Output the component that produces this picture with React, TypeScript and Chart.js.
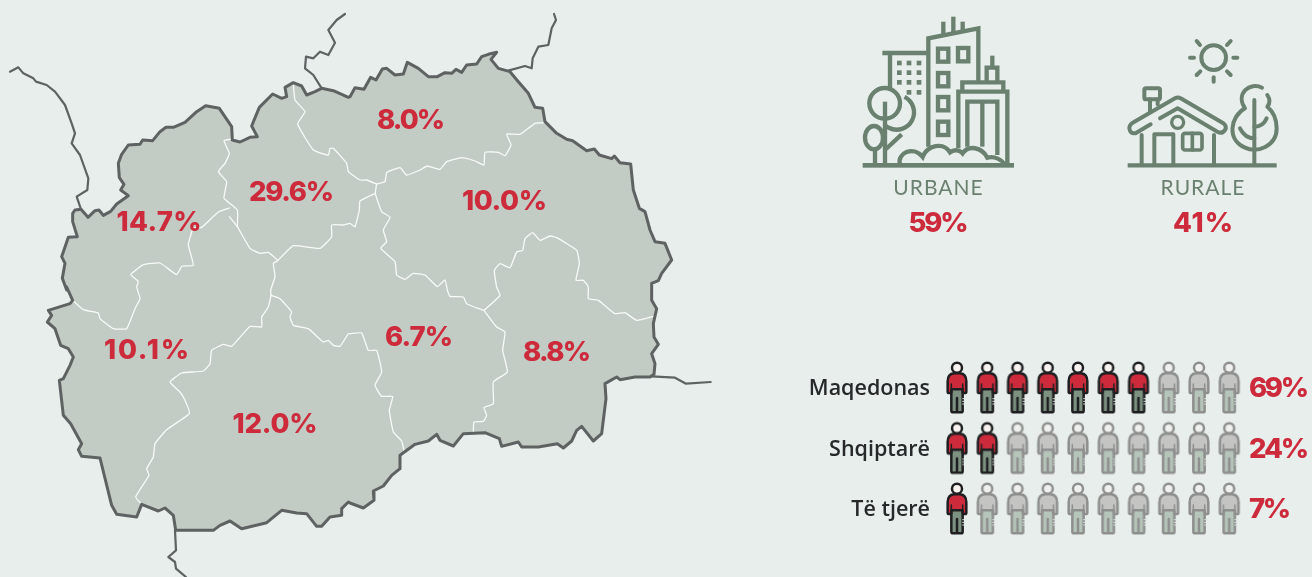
import React, { useEffect, useRef } from "react";
import { Chart, registerables } from "chart.js";

Chart.register(...registerables);

/* ---------- data ---------- */
const regionShares = [8.0, 29.6, 14.7, 10.0, 10.1, 12.0, 6.7, 8.8];
const regionLabelX = [411, 291.5, 159, 504.5, 146.5, 275, 419, 557];
const regionLabelY = [129, 201, 231, 210, 359, 433, 346, 361];

const settlementNames = ["URBANE", "RURALE"];
const settlementShares = [59, 41];
const settlementX = [938.5, 1203];

const groupNames = ["Maqedonas", "Shqiptarë", "Të tjerë"];
const groupShares = [69, 24, 7];
const groupFilled = [7, 2, 1];
const iconsPerRow = 10;

/* Map geometry, traced in 3x tiles: [originX, originY, x,y, x,y, ...] */
const outlineNW = [0, 0, 218,640, 225,630, 243,628, 264,652, 285,632, 297,630, 310,646, 332,634, 350,612, 385,587, 362,570, 372,553, 358,533, 355,490, 365,463, 385,435, 420,433, 428,420, 458,422, 480,395, 498,382, 520,382, 555,367, 590,335, 617,317, 658,325, 695,380, 697,420, 720,426, 750,412, 772,410, 755,378, 778,322, 818,282, 845,295, 860,290, 855,262, 880,248, 905,258, 920,285, 945,275, 965,265, 1000,272, 1045,292];
const outlineNE = [350, 0, 0,290, 15,263, 42,268, 62,232, 78,240, 97,207, 110,205, 135,225, 160,222, 172,187, 205,205, 235,230, 262,230, 285,218, 305,220, 318,208, 335,217, 350,195, 380,192, 395,170, 415,163, 440,157, 423,178, 445,205, 480,215, 505,245, 535,280, 555,322, 578,325, 585,365, 620,400, 650,418, 668,422, 710,452, 733,447, 748,465, 785,476, 793,468, 810,488, 842,492, 850,570, 868,625, 885,635, 900,690, 915,725, 945,730, 965,780, 935,820, 925,842, 905,850];
const outlineSE = [350, 287, 905,0, 905,40, 920,65, 910,110, 912,150, 925,172, 905,200, 915,230, 912,262, 900,270, 855,270, 810,278, 800,270, 765,290, 768,335, 755,440, 730,462, 695,418, 680,430, 665,462, 640,483, 622,470, 565,480, 515,480, 505,465, 455,478, 448,455, 405,437, 340,440, 310,477, 270,460, 260,442, 235,462, 195,472, 150,505, 150,545, 125,565, 100,597, 70,612, 72,640, 40,663, 0,648];
const outlineSW = [0, 287, 1045,645, 1025,665, 1025,685, 990,690, 965,718, 950,718, 920,680, 890,678, 845,670, 800,707, 725,725, 690,702, 660,715, 640,730, 527,730, 520,685, 495,663, 475,672, 425,652, 410,690, 350,682, 335,655, 300,513, 245,508, 235,488, 245,470, 212,410, 190,385, 178,280, 190,275, 210,235, 220,210, 205,185, 182,175, 165,125, 142,105, 155,85, 145,70, 210,50, 218,40, 200,0];
const outlineW = [0, 0, 200,870, 187,835, 195,790, 185,770, 205,712, 232,710, 218,665, 218,640];

const branches = [
  [0, 0, 30,215, 55,202, 70,220, 100,235, 108,245, 140,255, 165,275, 195,315, 215,370, 225,400, 215,430, 240,465, 265,535, 262,570, 230,590, 243,628],
  [0, 0, 1035,42, 1010,60, 985,90, 1005,128, 985,165, 960,155, 940,175, 918,170, 915,205, 940,225, 965,265],
  [350, 0, 612,42, 618,60, 605,85, 595,135, 565,140, 548,175, 545,205, 525,198, 475,212],
  [350, 287, 905,268, 975,272, 1008,290, 1082,285],
  [0, 287, 525,730, 528,790, 505,810, 525,825, 528,845, 558,870],
];

const innerBorders = [
  [0, 0, 880,255, 885,300, 915,335, 893,372, 940,450, 985,465, 990,445, 1000,445, 1040,490, 1045,515, 1080,540, 1100,540, 1130,552],
  [350, 0, 80,552, 105,545, 110,518, 150,503, 170,525, 210,510, 232,498, 270,508, 290,485, 335,473, 375,483, 402,495, 405,457, 445,457, 465,467, 483,435, 470,402, 510,403, 555,370, 582,368],
  [350, 0, 80,552, 76,580, 95,635, 120,652, 100,690, 110,725, 92,745, 135,785, 140,825, 165,838, 190,820, 225,825, 262,860, 285,840, 292,870, 300,889, 340,891, 350,911, 400,931],
  [350, 287, 402,70, 450,25, 440,0, 433,-50, 450,-70, 480,-58, 500,-105, 518,-110, 525,-145, 548,-163, 570,-140, 600,-153, 620,-148, 680,-110, 688,-70, 678,-20, 700,-20, 715,0, 715,35, 745,40, 795,80, 825,77, 860,100, 910,88],
  [350, 287, 402,70, 440,120, 465,135, 458,190, 472,255, 430,285, 430,350, 402,362, 410,385, 400,403, 372,405, 370,435],
  [350, 287, 0,140, 35,138, 55,190, 80,190, 95,255, 75,295, 95,328, 128,328, 118,370, 130,435, 155,462, 163,495],
  [0, 0, 688,650, 712,680, 750,745, 780,760, 805,757, 833,782, 820,790, 825,830, 812,870, 813,886],
  [0, 287, 813,25, 840,35, 875,75, 870,90, 880,115, 925,125, 970,165, 985,160, 1000,175, 1020,178, 1045,140, 1050,140],
  [0, 287, 813,25, 805,60, 785,90, 785,120, 750,118, 725,145, 695,178, 670,172, 635,190, 630,230, 610,252, 545,258, 510,285, 540,315, 555,340, 568,380, 500,428, 465,470, 460,510, 440,545, 447,565, 407,630, 425,652],
  [0, 287, 218,40, 250,68, 295,78, 300,95, 340,125, 380,125, 405,65, 420,35, 410,0, 415,-17, 392,-37, 430,-67, 480,-72, 530,-37, 545,-62, 580,-65, 565,-127, 580,-177, 605,-179, 655,-225, 688,-237],
  [0, 0, 695,417, 672,422, 688,460, 675,490, 655,515, 680,545, 672,595, 712,630, 712,680],
  [350, 0, 76,580, 30,603, 28,630, 15,680, 0,670, -20,675, -55,675, -55,710, -90,745, -170,737, -217,782],
];

const colors = {
  page: "#e7eeec",
  land: "#c2ccc5",
  outline: "#5f6262",
  red: "#cd2b3c",
  green: "#6b8170",
  ink: "#27282a",
};

const tile = (t: number[]) => {
  const pts: { x: number; y: number }[] = [];
  for (let i = 2; i < t.length; i += 2) pts.push({ x: t[0] + t[i] / 3, y: t[1] + t[i + 1] / 3 });
  return pts;
};

/* ---------- pictograms ---------- */
function makeCanvas(w: number, h: number) {
  const c = document.createElement("canvas");
  c.width = w;
  c.height = h;
  const g = c.getContext("2d")!;
  g.scale(1 / 3, 1 / 3);
  g.lineCap = "round";
  g.lineJoin = "round";
  return { c, g };
}

function person(active: boolean) {
  const { c, g } = makeCanvas(28, 58);
  const line = active ? "#1f1f21" : "#8f8f8f";
  const shirt = active ? "#cd2b3c" : "#c4c4c3";
  const legs = active ? "#7c9180" : "#b5c5ba";
  const head = active ? "#f8f3f0" : "#f0f1ef";
  g.lineWidth = 7.5;
  g.strokeStyle = line;
  // legs
  g.fillStyle = legs;
  g.beginPath();
  g.moveTo(25, 90);
  g.lineTo(25, 158);
  g.quadraticCurveTo(25, 163, 31, 163);
  g.lineTo(37, 163);
  g.quadraticCurveTo(42, 163, 42, 158);
  g.lineTo(42, 120);
  g.lineTo(42, 158);
  g.quadraticCurveTo(42, 163, 47, 163);
  g.lineTo(54, 163);
  g.quadraticCurveTo(59, 163, 59, 158);
  g.lineTo(59, 90);
  g.closePath();
  g.fill();
  g.stroke();
  // shirt
  g.fillStyle = shirt;
  g.beginPath();
  g.moveTo(14, 70);
  g.quadraticCurveTo(14, 48, 33, 46);
  g.lineTo(51, 46);
  g.quadraticCurveTo(70, 48, 70, 70);
  g.lineTo(70, 101);
  g.quadraticCurveTo(70, 105, 65, 105);
  g.lineTo(63, 105);
  g.quadraticCurveTo(59, 105, 59, 101);
  g.lineTo(59, 94);
  g.lineTo(25, 94);
  g.lineTo(25, 101);
  g.quadraticCurveTo(25, 105, 21, 105);
  g.lineTo(19, 105);
  g.quadraticCurveTo(14, 105, 14, 101);
  g.closePath();
  g.fill();
  g.stroke();
  g.lineWidth = 4.5;
  g.beginPath();
  g.moveTo(25, 78);
  g.lineTo(25, 94);
  g.moveTo(59, 78);
  g.lineTo(59, 94);
  g.stroke();
  g.lineWidth = 7.5;
  // head
  g.fillStyle = head;
  g.beginPath();
  g.arc(42, 29, 15, 0, Math.PI * 2);
  g.fill();
  g.stroke();
  // notches on the leg
  g.strokeStyle = "#dfe6e3";
  g.lineWidth = 3;
  for (const y of [122, 130, 138]) {
    g.beginPath();
    g.moveTo(59, y);
    g.lineTo(65, y);
    g.stroke();
  }
  return c;
}

function urbanIcon() {
  const { c, g } = makeCanvas(180, 235);
  g.lineCap = "butt";
  g.lineJoin = "miter";
  g.strokeStyle = colors.green;
  g.fillStyle = colors.green;
  g.lineWidth = 13;
  const poly = (...p: number[]) => {
    g.beginPath();
    g.moveTo(p[0], p[1]);
    for (let i = 2; i < p.length; i += 2) g.lineTo(p[i], p[i + 1]);
    g.stroke();
  };
  const box = (x: number, y: number, w: number, h: number) => g.strokeRect(x, y, w, h);
  // left building
  poly(97, 144, 235, 144);
  poly(120, 144, 120, 250);
  for (const y of [174, 203, 232]) for (const x of [148, 177, 207]) g.fillRect(x - 7, y - 7, 14, 14);
  for (const x of [177, 207]) g.fillRect(x - 7, 255, 14, 14);
  // main tower
  poly(235, 425, 235, 100, 385, 70, 385, 232);
  poly(280, 50, 280, 90);
  poly(310, 35, 310, 84);
  poly(338, 50, 338, 76);
  box(264, 131, 31, 39);
  box(324, 129, 31, 40);
  box(264, 204, 31, 40);
  box(264, 276, 31, 40);
  box(264, 350, 31, 40);
  // right building
  poly(325, 430, 325, 260, 472, 260, 472, 475);
  poly(337, 260, 337, 232, 460, 232, 460, 260);
  poly(410, 232, 410, 188, 442, 188, 442, 232);
  poly(427, 188, 427, 152);
  poly(352, 425, 352, 290, 442, 290, 442, 450);
  poly(397, 290, 397, 425);
  // trees
  g.beginPath();
  g.arc(104, 295, 46, 0, Math.PI * 2);
  g.stroke();
  g.beginPath();
  g.arc(140, 322, 52, -1.1, 2.3);
  g.stroke();
  poly(105, 290, 105, 475);
  poly(108, 432, 155, 388);
  g.beginPath();
  g.ellipse(72, 398, 27, 35, 0, 0, Math.PI * 2);
  g.stroke();
  poly(75, 435, 75, 475);
  // bushes
  g.beginPath();
  g.moveTo(150, 478);
  g.bezierCurveTo(140, 445, 190, 420, 218, 456);
  g.bezierCurveTo(232, 420, 280, 410, 300, 442);
  g.bezierCurveTo(312, 432, 330, 435, 338, 445);
  g.bezierCurveTo(355, 420, 395, 425, 412, 458);
  g.bezierCurveTo(435, 452, 455, 465, 465, 478);
  g.stroke();
  // ground
  g.fillRect(38, 474, 454, 14);
  return c;
}

function ruralIcon() {
  const { c, g } = makeCanvas(180, 215);
  g.strokeStyle = colors.green;
  g.lineWidth = 12;
  const poly = (...p: number[]) => {
    g.beginPath();
    g.moveTo(p[0], p[1]);
    for (let i = 2; i < p.length; i += 2) g.lineTo(p[i], p[i + 1]);
    g.stroke();
  };
  // sun
  g.beginPath();
  g.arc(311, 98, 37, 0, Math.PI * 2);
  g.stroke();
  poly(240, 98, 252, 98);
  poly(370, 98, 382, 98);
  poly(311, 157, 311, 170);
  poly(260, 48, 270, 60);
  poly(362, 48, 351, 60);
  poly(260, 150, 271, 139);
  poly(351, 139, 362, 150);
  // ground
  g.lineCap = "butt";
  g.lineWidth = 13;
  poly(53, 421, 500, 421);
  g.lineCap = "round";
  g.lineWidth = 12;
  // roof
  g.beginPath();
  g.moveTo(122, 298);
  g.lineTo(78, 324);
  g.quadraticCurveTo(60, 328, 58, 310);
  g.quadraticCurveTo(58, 298, 72, 291);
  g.lineTo(195, 220);
  g.quadraticCurveTo(204, 215, 212, 220);
  g.lineTo(340, 295);
  g.quadraticCurveTo(352, 305, 345, 315);
  g.quadraticCurveTo(336, 328, 322, 320);
  g.lineTo(203, 250);
  g.lineTo(150, 280);
  g.stroke();
  // walls
  poly(95, 330, 95, 415);
  poly(312, 330, 312, 415);
  // door
  poly(133, 415, 133, 328, 190, 328, 190, 415);
  // round window
  g.lineWidth = 10;
  g.beginPath();
  g.arc(203, 292, 18, 0, Math.PI * 2);
  g.stroke();
  // window
  g.lineWidth = 11;
  g.beginPath();
  g.roundRect(218, 325, 58, 50, 7);
  g.stroke();
  poly(247, 325, 247, 375);
  // chimney
  g.lineWidth = 12;
  g.beginPath();
  g.roundRect(103, 190, 47, 33, 5);
  g.stroke();
  poly(120, 223, 120, 260);
  poly(143, 223, 143, 238);
  // tree
  g.beginPath();
  g.moveTo(456, 188);
  g.bezierCurveTo(420, 170, 375, 205, 405, 250);
  g.bezierCurveTo(360, 275, 350, 345, 405, 368);
  g.bezierCurveTo(440, 385, 500, 365, 500, 310);
  g.bezierCurveTo(500, 280, 490, 260, 472, 245);
  g.bezierCurveTo(480, 235, 480, 222, 472, 210);
  g.stroke();
  poly(433, 225, 433, 415);
  g.beginPath();
  g.moveTo(390, 310);
  g.quadraticCurveTo(405, 340, 433, 340);
  g.stroke();
  g.beginPath();
  g.moveTo(433, 305);
  g.quadraticCurveTo(460, 305, 470, 280);
  g.stroke();
  return c;
}

/* ---------- label plugin ---------- */
const fittedWidth: Record<number, number> = { 2: 42, 3: 60, 4: 68, 5: 85 };

const labelsPlugin = {
  id: "labels",
  beforeDraw(chart: any) {
    const { ctx, width, height } = chart;
    ctx.save();
    ctx.fillStyle = colors.page;
    ctx.fillRect(0, 0, width, height);
    ctx.restore();
  },
  afterDatasetsDraw(chart: any) {
    const { ctx, scales } = chart;
    const text = (s: string, x: number, y: number, font: string, color: string, align: CanvasTextAlign, spacing = "0px") => {
      ctx.font = font;
      ctx.fillStyle = color;
      ctx.textAlign = align;
      ctx.textBaseline = "alphabetic";
      (ctx as any).letterSpacing = spacing;
      ctx.fillText(s, x, y);
    };
    const big = '800 27.5px Inter, sans-serif';
    const pct = (s: string, x: number, y: number, align: CanvasTextAlign) => {
      ctx.font = big;
      (ctx as any).letterSpacing = "0px";
      const w = ctx.measureText(s).width;
      const sp = (fittedWidth[s.length] - w) / (s.length - 1);
      text(s, align === "center" ? x + sp / 2 : x, y, big, colors.red, align, `${sp}px`);
    };
    ctx.save();
    regionShares.forEach((v, i) =>
      pct(`${v.toFixed(1)}%`, scales.x.getPixelForValue(regionLabelX[i]), scales.y.getPixelForValue(regionLabelY[i]), "center"),
    );
    settlementNames.forEach((n, i) => {
      const x = scales.x.getPixelForValue(settlementX[i]);
      text(n, x, scales.y.getPixelForValue(195), '400 21px Lato, sans-serif', colors.green, "center", "1px");
      pct(`${settlementShares[i]}%`, x, scales.y.getPixelForValue(232), "center");
    });
    groupNames.forEach((n, i) => {
      const y = scales.row.getPixelForValue(i);
      text(n, 930, y + 8, '600 21.5px "Open Sans", sans-serif', colors.ink, "right", "0px");
      pct(`${groupShares[i]}%`, 1249, y + 10, "left");
    });
    ctx.restore();
  },
};

export default function App() {
  const ref = useRef<HTMLCanvasElement>(null);
  useEffect(() => {
    document.body.style.margin = "0";
    document.body.style.background = colors.page;
    const activeImg = person(true);
    const idleImg = person(false);
    const outline = [...tile(outlineNW), ...tile(outlineNE), ...tile(outlineSE), ...tile(outlineSW), ...tile(outlineW)];

    const line = (data: any[], color: string, width: number, order: number, extra: any = {}) => ({
      type: "scatter",
      data,
      showLine: true,
      borderColor: color,
      borderWidth: width,
      backgroundColor: "transparent",
      pointRadius: 0,
      tension: 0,
      borderJoinStyle: "round",
      borderCapStyle: "round",
      clip: false,
      order,
      ...extra,
    });

    const peopleActive: any[] = [];
    const peopleIdle: any[] = [];
    groupFilled.forEach((filled, row) => {
      for (let col = 0; col < iconsPerRow; col++) (col < filled ? peopleActive : peopleIdle).push({ x: col, y: row });
    });

    const chart = new Chart(ref.current!, {
      type: "scatter",
      data: {
        datasets: [
          line(outline, "transparent", 0, 30, { fill: "shape", backgroundColor: colors.land }),
          ...innerBorders.map((b) => line(tile(b), "#f8faf9", 1.3, 20, { tension: 0.12 })),
          ...branches.map((b) => line(tile(b), colors.outline, 2.2, 10)),
          line(outline, colors.outline, 3, 9),
          { data: peopleActive, xAxisID: "col", yAxisID: "row", pointStyle: activeImg, pointRadius: 14, order: 1, clip: false },
          { data: peopleIdle, xAxisID: "col", yAxisID: "row", pointStyle: idleImg, pointRadius: 14, order: 1, clip: false },
          { data: [{ x: 940, y: 122.5 }], pointStyle: urbanIcon(), pointRadius: 10, order: 1, clip: false },
          { data: [{ x: 1200, y: 132.5 }], pointStyle: ruralIcon(), pointRadius: 10, order: 1, clip: false },
        ] as any,
      },
      options: {
        responsive: false,
        animation: false,
        events: [],
        layout: { padding: 0, autoPadding: false },
        plugins: { legend: { display: false }, tooltip: { enabled: false } },
        scales: {
          x: { type: "linear", min: 0, max: 1312, display: false },
          y: { type: "linear", min: 0, max: 577, reverse: true, display: false },
          col: { type: "linear", axis: "x", min: -957 / 30.25, max: (1312 - 957) / 30.25, display: false },
          row: { type: "linear", axis: "y", min: -387 / 60.5, max: (577 - 387) / 60.5, reverse: true, display: false },
        } as any,
      },
      plugins: [labelsPlugin as any],
    });
    return () => chart.destroy();
  }, []);
  return <canvas ref={ref} width={1312} height={577} style={{ display: "block", width: 1312, height: 577 }} />;
}
